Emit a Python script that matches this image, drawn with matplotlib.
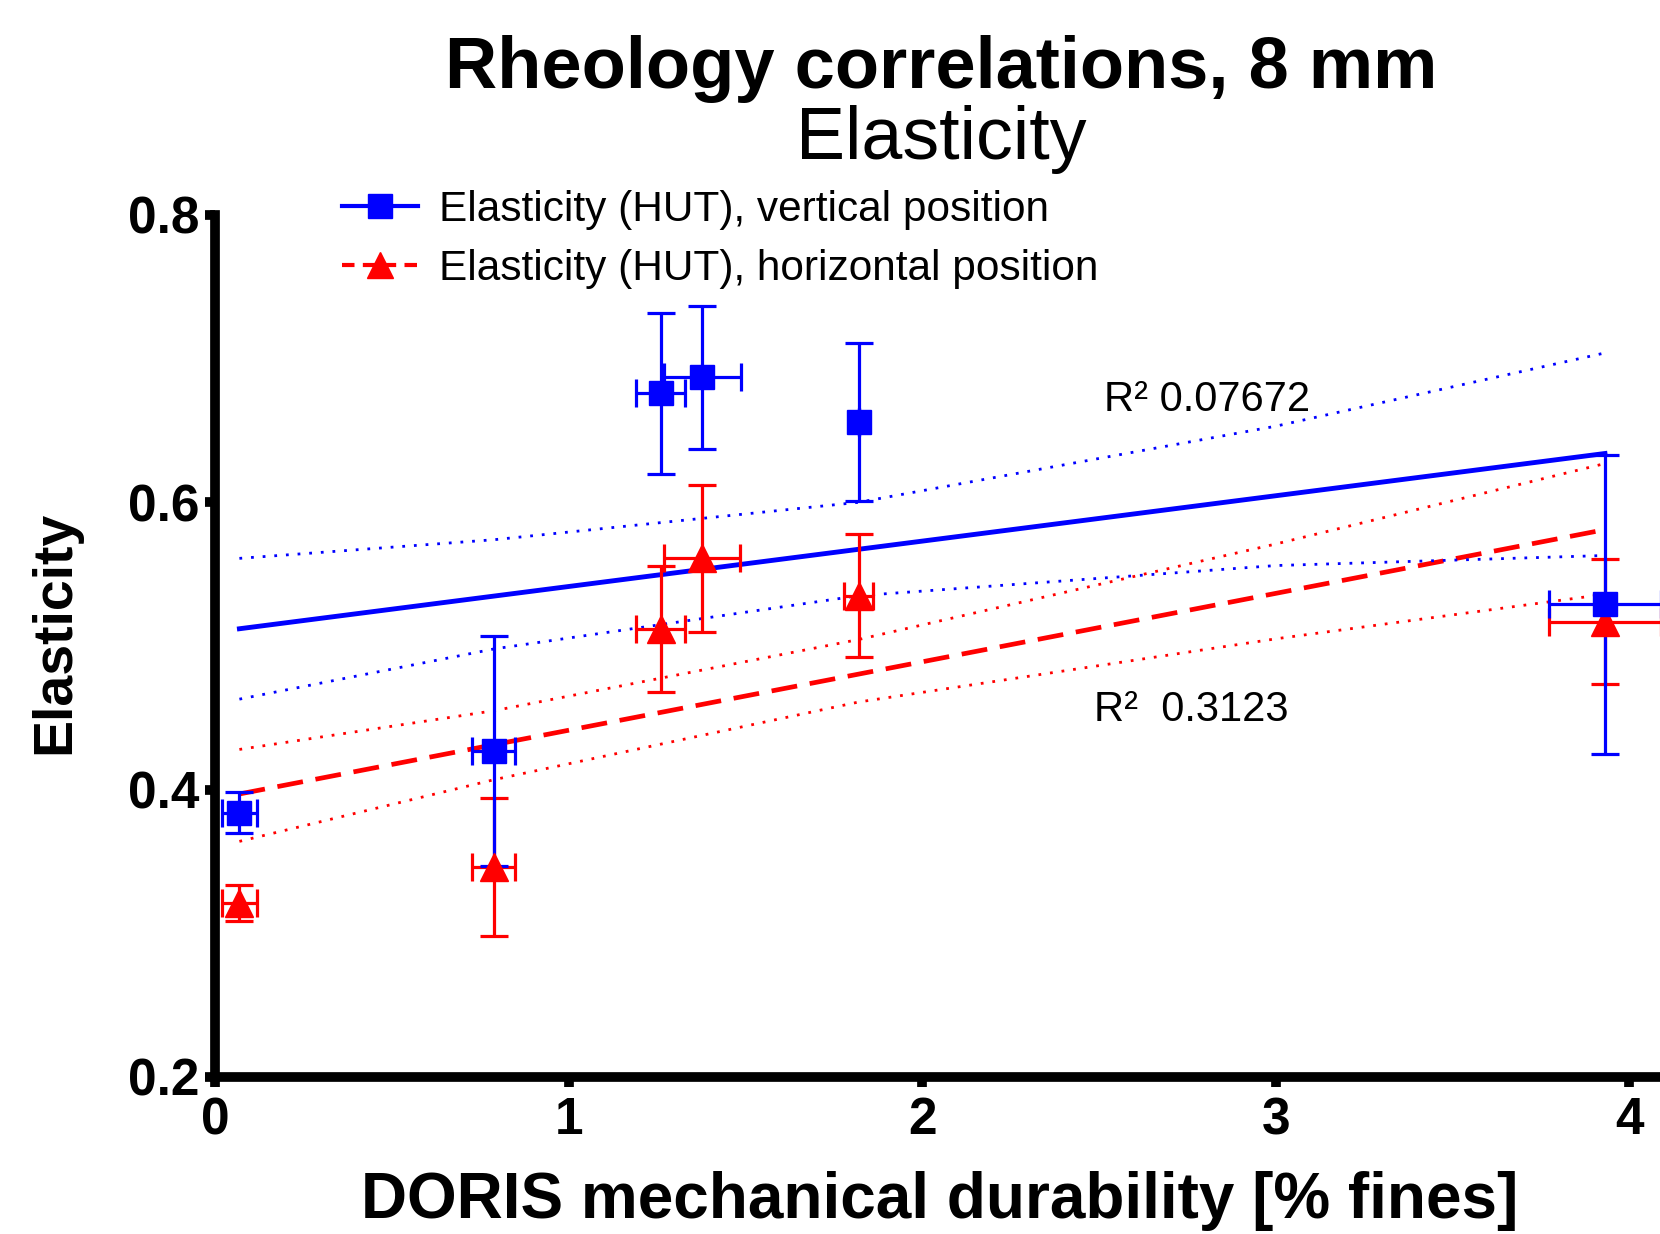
import numpy as np
import matplotlib
matplotlib.use("Agg")
import matplotlib.pyplot as plt
from matplotlib.lines import Line2D

plt.rcParams['font.family'] = ['Liberation Sans', 'DejaVu Sans']

# means (x = DORIS % fines, y = elasticity)
x_vert = [0.069, 0.788, 1.260, 1.378, 1.820, 3.931]
y_vert = [0.384, 0.427, 0.676, 0.687, 0.656, 0.529]
xerr_vert = [0.05, 0.061, 0.07, 0.109, 0.0, 0.158]
yerr_vert = [0.0145, 0.08, 0.056, 0.05, 0.055, 0.104]

x_hor = [0.069, 0.788, 1.260, 1.378, 1.820, 3.931]
y_hor = [0.321, 0.346, 0.512, 0.561, 0.535, 0.517]
xerr_hor = [0.05, 0.061, 0.07, 0.108, 0.04, 0.158]
yerr_hor = [0.0125, 0.048, 0.044, 0.051, 0.043, 0.0435]

# linear fits (end points) and 95% bands
fit_x = [0.069, 3.931]
fit_vert = [0.512, 0.634]
fit_hor = [0.397, 0.581]
band_x = [0.069, 0.79, 1.82, 3.0, 3.931]
band_vert_hi = [0.561, 0.574, 0.600, 0.653, 0.704]
band_vert_lo = [0.463, 0.498, 0.535, 0.556, 0.563]
band_hor_hi = [0.428, 0.455, 0.5045, 0.571, 0.627]
band_hor_lo = [0.364, 0.407, 0.461, 0.505, 0.536]

r2_vert = "R\u00b2 0.07672"
r2_hor = "R\u00b2  0.3123"

W, H = 1660, 1234
fig = plt.figure(figsize=(W / 100, H / 100), dpi=100)
ax = fig.add_axes([215 / W, 1 - 1077 / H, (W - 215) / W, (1077 - 215) / H])

blue = '#0000FF'
red = '#FF0000'

# fits and bands
dot = (0, (1, 3.2))
ax.plot(band_x, band_hor_hi, color=red, lw=2, ls=dot)
ax.plot(band_x, band_hor_lo, color=red, lw=2, ls=dot)
ax.plot(fit_x, fit_hor, color=red, lw=3.4, ls=(0, (5.5, 2.7)))
ax.plot(band_x, band_vert_hi, color=blue, lw=2, ls=dot)
ax.plot(band_x, band_vert_lo, color=blue, lw=2, ls=dot)
ax.plot(fit_x, fit_vert, color=blue, lw=3.5)

ax.errorbar(x_hor, y_hor, xerr=xerr_hor, yerr=yerr_hor, fmt='^', color=red,
            ms=20, capsize=10, elinewidth=2.3, capthick=2.3)
ax.errorbar(x_vert, y_vert, xerr=xerr_vert, yerr=yerr_vert, fmt='s', color=blue,
            ms=17, capsize=10, elinewidth=2.3, capthick=2.3)

ax.text(2.514, 0.671, r2_vert, fontsize=30, va='center', ha='left')
ax.text(2.486, 0.4554, r2_hor, fontsize=30, va='center', ha='left')

ax.set_xlim(0, (W - 215) / 353.6)
ax.set_ylim(0.2, 0.8)
ax.set_xticks([0, 1, 2, 3, 4])
ax.set_yticks([0.2, 0.4, 0.6, 0.8])
ax.set_yticklabels(['0.2', '0.4', '0.6', '0.8'])
for s in ['top', 'right']:
    ax.spines[s].set_visible(False)
for s in ['left', 'bottom']:
    ax.spines[s].set_linewidth(7)
ax.tick_params(width=7, length=7, labelsize=37)
ax.tick_params(axis='x', pad=7)
ax.tick_params(axis='y', pad=4)
for lab in ax.get_xticklabels() + ax.get_yticklabels():
    lab.set_fontweight('bold')

handles = [
    Line2D([], [], color=blue, lw=3, marker='s', ms=17),
    Line2D([], [], color=red, lw=3, ls=(0, (3, 2)), marker='^', ms=19),
]
fig.legend(handles, ['Elasticity (HUT), vertical position',
                     'Elasticity (HUT), horizontal position'],
           loc='upper left', bbox_to_anchor=(342 / W, 1 - 190 / H),
           frameon=False, fontsize=30.5, borderpad=0, borderaxespad=0,
           handlelength=1.8, handletextpad=0.5, labelspacing=0.45, numpoints=1)

fig.text(941 / W, 1 - 69 / H, 'Rheology correlations, 8 mm', fontsize=52,
         fontweight='bold', ha='center', va='center')
fig.text(941 / W, 1 - 140 / H, 'Elasticity', fontsize=53, ha='center', va='center')
fig.text(940 / W, 1 - 1201 / H, 'DORIS mechanical durability [% fines]', fontsize=46,
         fontweight='bold', ha='center', va='center')
fig.text(55 / W, 1 - 632 / H, 'Elasticity', fontsize=40, fontweight='bold',
         rotation=90, ha='center', va='center')

fig.savefig('out.png', dpi=100)
